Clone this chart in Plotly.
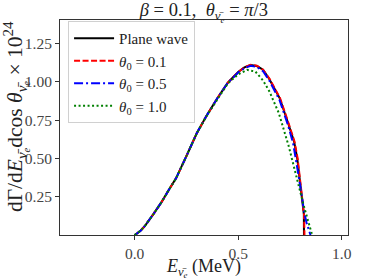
import plotly.graph_objects as go

# Plane wave
E_pw = [0.0, 0.01, 0.03, 0.05, 0.09, 0.13, 0.17, 0.2, 0.25, 0.3, 0.35, 0.4, 0.45, 0.5, 0.53, 0.56, 0.59,
        0.62, 0.65, 0.7, 0.74, 0.77, 0.785, 0.792, 0.80, 0.81, 0.817, 0.8175]
G_pw = [0.0, 0.008, 0.03, 0.06, 0.135, 0.215, 0.305, 0.37, 0.515, 0.665, 0.785, 0.895, 0.995, 1.065, 1.095,
        1.111, 1.104, 1.08, 1.02, 0.895, 0.735, 0.61, 0.50, 0.41, 0.32, 0.21, 0.135, 0.0]

# theta0 = 0.1
E_01 = [0.0, 0.01, 0.03, 0.05, 0.09, 0.13, 0.17, 0.2, 0.25, 0.3, 0.35, 0.4, 0.45, 0.5, 0.53, 0.56, 0.59,
        0.62, 0.652, 0.702, 0.742, 0.772, 0.787, 0.794, 0.802, 0.812, 0.818, 0.82]
G_01 = [0.0, 0.008, 0.03, 0.06, 0.135, 0.215, 0.305, 0.37, 0.515, 0.665, 0.785, 0.895, 0.995, 1.065, 1.095,
        1.112, 1.106, 1.08, 1.02, 0.895, 0.735, 0.61, 0.50, 0.41, 0.32, 0.21, 0.13, 0.0]

# theta0 = 0.5
E_05 = [0.0, 0.01, 0.03, 0.05, 0.09, 0.13, 0.17, 0.2, 0.25, 0.3, 0.35, 0.4, 0.45, 0.5, 0.53, 0.56, 0.59,
        0.62, 0.65, 0.7, 0.74, 0.765, 0.79, 0.80, 0.81, 0.82, 0.83, 0.84, 0.849]
G_05 = [0.0, 0.008, 0.03, 0.06, 0.135, 0.215, 0.305, 0.37, 0.515, 0.665, 0.785, 0.895, 0.995, 1.062, 1.09,
        1.106, 1.098, 1.07, 1.01, 0.88, 0.72, 0.60, 0.40, 0.31, 0.22, 0.14, 0.08, 0.035, 0.0]

# theta0 = 1.0
E_10 = [0.0, 0.01, 0.03, 0.05, 0.09, 0.13, 0.17, 0.2, 0.25, 0.3, 0.35, 0.4, 0.45, 0.5, 0.543, 0.583,
        0.62, 0.65, 0.696, 0.744, 0.776, 0.80, 0.817, 0.84, 0.857]
G_10 = [0.0, 0.008, 0.03, 0.06, 0.135, 0.215, 0.305, 0.37, 0.515, 0.665, 0.783, 0.89, 0.99, 1.05, 1.079,
        1.068, 1.01, 0.94, 0.797, 0.58, 0.405, 0.27, 0.189, 0.08, 0.0]

ytick_vals = [0.25, 0.5, 0.75, 1.0, 1.25]
ytick_text = ["0.25", "0.50", "0.75", "1.00", "1.25"]
xtick_vals = [0.0, 0.5, 1.0]
xtick_text = ["0.0", "0.5", "1.0"]

FONT = "Liberation Serif"
nu = "<i>ν̄</i><sub><i>e</i></sub>"

fig = go.Figure()
fig.add_trace(go.Scatter(x=E_pw, y=G_pw, mode="lines", name="Plane wave",
                         line=dict(color="black", width=2)))
fig.add_trace(go.Scatter(x=E_01, y=G_01, mode="lines", name="<i>θ</i><sub>0</sub> = 0.1",
                         line=dict(color="#ff0000", width=2, dash="6px,2.5px")))
fig.add_trace(go.Scatter(x=E_05, y=G_05, mode="lines", name="<i>θ</i><sub>0</sub> = 0.5",
                         line=dict(color="#0000ff", width=2, dash="9px,3px,2px,3px")))
fig.add_trace(go.Scatter(x=E_10, y=G_10, mode="lines", name="<i>θ</i><sub>0</sub> = 1.0",
                         line=dict(color="#008000", width=2, dash="2px,2.5px")))

fig.update_layout(
    width=374, height=280,
    margin=dict(l=60, r=26, t=20, b=45, autoexpand=False),
    paper_bgcolor="white", plot_bgcolor="white",
    font=dict(family=FONT, size=15, color="#222"),
    title=dict(text="<i>β</i> = 0.1,  <i>θ</i><sub>" + nu + "</sub> = <i>π</i>/3",
               x=0.545, xanchor="center", y=0.965, yanchor="middle",
               font=dict(family=FONT, size=18.5, color="#222")),
    showlegend=True,
    legend=dict(x=0.028, y=0.995, xanchor="left", yanchor="top",
                bgcolor="rgba(255,255,255,0.8)", bordercolor="#d0d0d0", borderwidth=1,
                font=dict(family=FONT, size=15, color="#222"), itemwidth=40),
    xaxis=dict(range=[-0.36, 1.03], tickvals=xtick_vals, ticktext=xtick_text, automargin=False,
               showline=True, mirror=True, linecolor="#333", linewidth=1,
               ticks="outside", ticklen=4, tickcolor="#333", showgrid=False, zeroline=False,
               tickfont=dict(family=FONT, size=15.5, color="#444")),
    yaxis=dict(range=[0.0, 1.405], tickvals=ytick_vals, ticktext=ytick_text, automargin=False,
               showline=True, mirror=True, linecolor="#333", linewidth=1,
               ticks="outside", ticklen=4, tickcolor="#333", showgrid=False, zeroline=False,
               tickfont=dict(family=FONT, size=15.5, color="#444")),
    annotations=[
        dict(text="<i>E</i><sub>" + nu + "</sub> (MeV)", xref="paper", yref="paper",
             x=0.497, y=-0.155, xanchor="center", yanchor="middle", showarrow=False,
             font=dict(family=FONT, size=18, color="#222")),
        dict(text="dΓ/d<i>E</i><sub>" + nu + "</sub>dcos <i>θ</i><sub>" + nu + "</sub> × 10<sup>24</sup>",
             xref="paper", yref="paper", x=-0.15, y=0.552, xanchor="center", yanchor="middle",
             textangle=-90, showarrow=False, font=dict(family=FONT, size=21.5, color="#222")),
    ],
)

fig.write_html("out.html", config={"displayModeBar": False},
               post_script="document.body.style.margin='0';")
